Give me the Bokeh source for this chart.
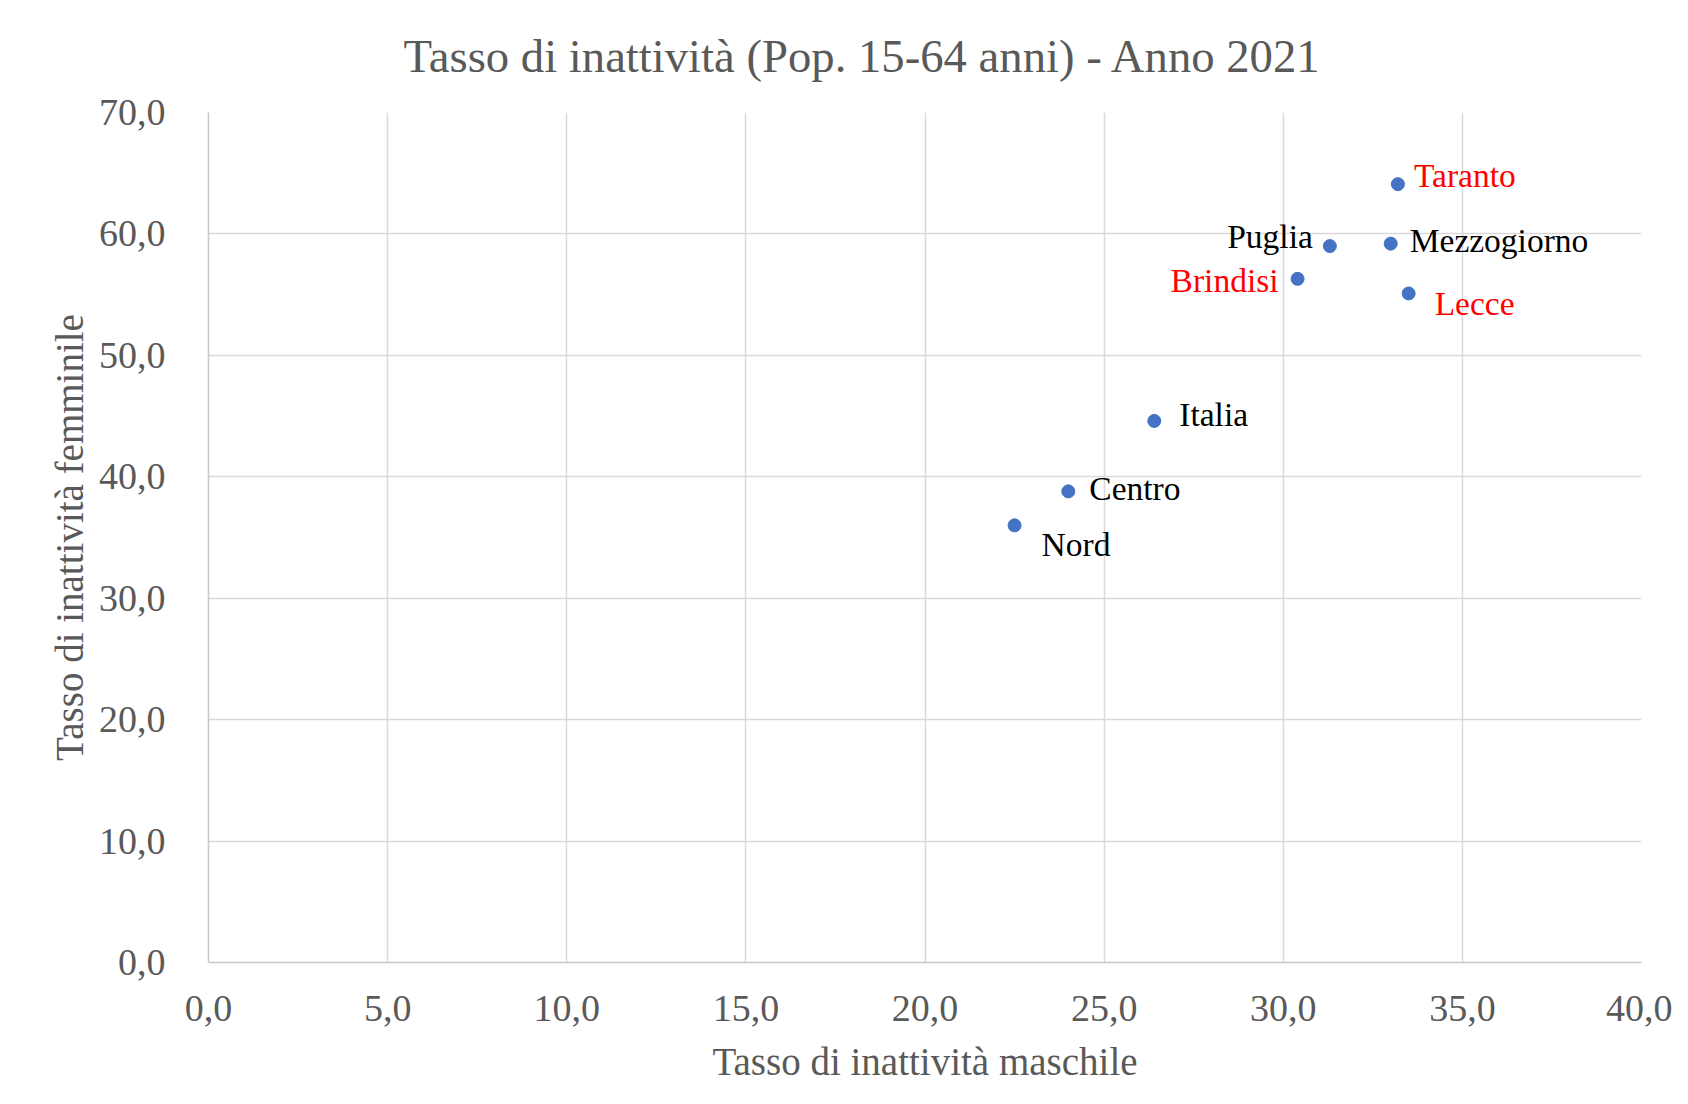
from bokeh.plotting import figure
from bokeh.models import ColumnDataSource, Range1d, FixedTicker
from bokeh.core.properties import value
from bokeh.embed import file_html
from bokeh.resources import INLINE

# ---- data ----
names = ["Taranto", "Puglia", "Mezzogiorno", "Brindisi", "Lecce", "Italia", "Centro", "Nord"]
male_inactivity = [33.2, 31.3, 33.0, 30.4, 33.5, 26.4, 24.0, 22.5]
female_inactivity = [64.1, 59.0, 59.2, 56.3, 55.1, 44.6, 38.8, 36.0]
label_colors = ["#FF0000", "#000000", "#000000", "#FF0000", "#FF0000", "#000000", "#000000", "#000000"]

x_ticks = [0, 5, 10, 15, 20, 25, 30, 35, 40]
x_tick_labels = ["0,0", "5,0", "10,0", "15,0", "20,0", "25,0", "30,0", "35,0", "40,0"]
y_ticks = [0, 10, 20, 30, 40, 50, 60, 70]
y_tick_labels = ["0,0", "10,0", "20,0", "30,0", "40,0", "50,0", "60,0", "70,0"]

title_text = "Tasso di inattività (Pop. 15-64 anni) - Anno 2021"
x_title = "Tasso di inattività maschile"
y_title = "Tasso di inattività femminile"

# label placement (screen pixels relative to each point)
label_align = ["left", "right", "left", "right", "left", "left", "left", "left"]
label_dx = [16, -17, 19, -19, 26, 25, 21, 27]
label_dy = [-9, -10, -3, 2, 10, -6, -3, 19]

FONT = "Liberation Serif"
GRAY = "#595959"

src = ColumnDataSource(dict(x=male_inactivity, y=female_inactivity, name=names,
                            color=label_colors, align=label_align,
                            dx=label_dx, dy=label_dy))

p = figure(width=1672, height=1088, output_backend="svg", toolbar_location=None,
           x_range=Range1d(0, 40), y_range=Range1d(0, 70),
           min_border_left=208, min_border_right=31,
           min_border_top=112, min_border_bottom=126)
p.outline_line_color = None
p.background_fill_color = "white"
p.border_fill_color = "white"

p.title.text = title_text
p.title.text_font = FONT
p.title.text_font_size = "46.7px"
p.title.text_font_style = "normal"
p.title.text_color = GRAY
p.title.align = "left"
p.title.vertical_align = "top"
p.title.offset = 195
p.title.standoff = 58

for ax in (p.xaxis[0], p.yaxis[0]):
    ax.major_label_text_font = FONT
    ax.major_label_text_font_size = "38px"
    ax.major_label_text_color = GRAY
    ax.axis_label_text_font = FONT
    ax.axis_label_text_font_size = "39px"
    ax.axis_label_text_font_style = "normal"
    ax.axis_label_text_color = GRAY
    ax.major_tick_out = 0
    ax.major_tick_in = 0
    ax.minor_tick_out = 0
    ax.minor_tick_in = 0
    ax.axis_line_color = "#c8c8c8"
    ax.axis_line_width = 1.5

p.xaxis[0].ticker = FixedTicker(ticks=x_ticks)
p.yaxis[0].ticker = FixedTicker(ticks=y_ticks)
p.xaxis[0].major_label_overrides = {t: l for t, l in zip(x_ticks, x_tick_labels)}
p.yaxis[0].major_label_overrides = {t: l for t, l in zip(y_ticks, y_tick_labels)}
p.xaxis[0].axis_label = x_title
p.yaxis[0].axis_label = y_title
p.xaxis[0].major_label_standoff = 33
p.xaxis[0].axis_label_standoff = 16
p.yaxis[0].major_label_standoff = 43
p.yaxis[0].axis_label_standoff = 5

p.xgrid[0].ticker = FixedTicker(ticks=x_ticks)
p.ygrid[0].ticker = FixedTicker(ticks=y_ticks)
for g in (p.xgrid[0], p.ygrid[0]):
    g.grid_line_color = "#d9d9d9"
    g.grid_line_width = 1.5

p.scatter("x", "y", source=src, size=13, fill_color="#4472C4", line_color="#4472C4")
p.text("x", "y", text="name", source=src, text_color="color", text_align="align",
       x_offset="dx", y_offset="dy", text_baseline="alphabetic",
       text_font=value(FONT), text_font_size="33.5px")

open("out.html", "w").write(file_html(p, INLINE))
